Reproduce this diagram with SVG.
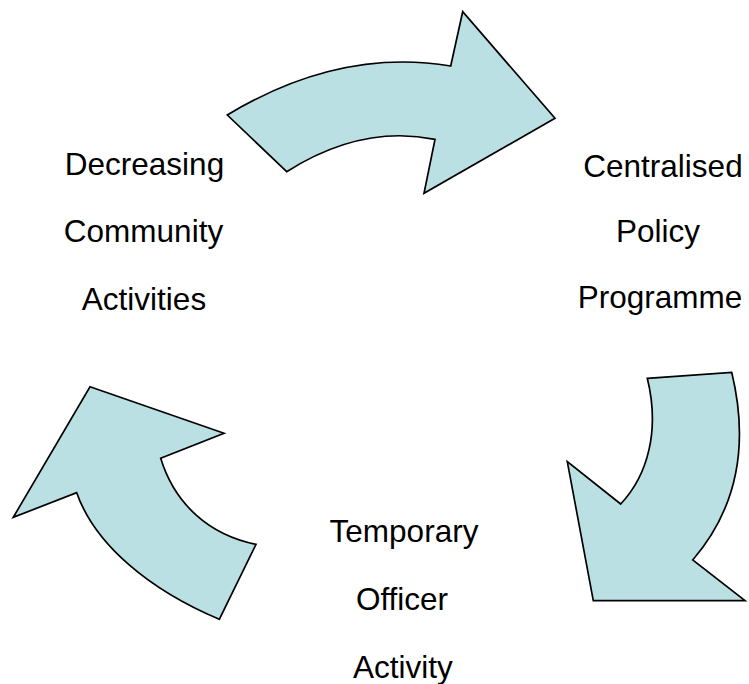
<svg xmlns="http://www.w3.org/2000/svg" width="749" height="684" viewBox="0 0 749 684">
  <style>
    .arrow { fill: #BBE0E3; stroke: #000; stroke-width: 1.7; stroke-linejoin: miter; }
    .label { font-family: "Liberation Sans", Arial, sans-serif; font-size: 31.5px; fill: #000; text-anchor: middle; }
  </style>
  <rect width="749" height="684" fill="#fff"/>

  <!-- curved cycle arrows -->
  <g id="connectors">
    <path id="arrow-top" class="arrow"
          d="M227.3,115 L286.7,171.7 Q361,124.5 435,139.3 L424,193.3 L555,118.3 L462.7,11.7 L450.7,66 Q339,47.5 227.3,115 Z"/>
    <path id="arrow-right" class="arrow"
          d="M647.3,378.3 L731.7,372.3 C748,440 740,505 692.7,560 L745,600.7 L593.3,600.7 L567.3,461.7 L620.7,504 C648,475 660,430 647.3,378.3 Z"/>
    <path id="arrow-left" class="arrow"
          d="M90,386.7 L224,433.3 L160.7,458.3 C175,505 210,535 256,544.3 L219.3,619.3 C150,590 95,545 76.7,492.7 L13.3,517.3 Z"/>
  </g>

  <g id="node-community">
    <text class="label" x="144.5" y="175">Decreasing</text>
    <text class="label" x="143.5" y="242">Community</text>
    <text class="label" x="144" y="310">Activities</text>
  </g>

  <g id="node-policy">
    <text class="label" x="663" y="177">Centralised</text>
    <text class="label" x="658" y="242">Policy</text>
    <text class="label" x="660" y="308">Programme</text>
  </g>

  <g id="node-officer">
    <text class="label" x="404" y="542">Temporary</text>
    <text class="label" x="402" y="610">Officer</text>
    <text class="label" x="403" y="678">Activity</text>
  </g>
</svg>
